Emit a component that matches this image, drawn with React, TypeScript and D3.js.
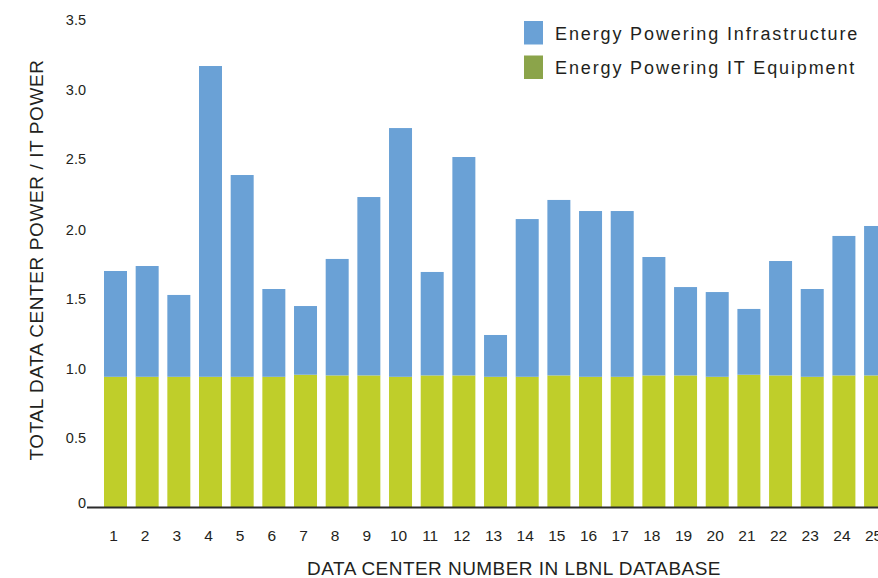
import React from "react";
import * as d3 from "d3";

const categories = Array.from({ length: 25 }, (_, i) => String(i + 1));
const itEquipment = [0.94, 0.94, 0.94, 0.94, 0.94, 0.94, 0.955, 0.95, 0.95, 0.94, 0.95, 0.95, 0.94, 0.94, 0.95, 0.94, 0.94, 0.95, 0.95, 0.94, 0.955, 0.95, 0.94, 0.95, 0.95];
const totalPower = [1.704, 1.74, 1.531, 3.184, 2.397, 1.574, 1.451, 1.791, 2.238, 2.736, 1.697, 2.527, 1.242, 2.079, 2.217, 2.137, 2.137, 1.805, 1.588, 1.552, 1.43, 1.776, 1.574, 1.957, 2.029];
const yTicks = [0, 0.5, 1.0, 1.5, 2.0, 2.5, 3.0, 3.5];
const yTickLabels = ["0", "0.5", "1.0", "1.5", "2.0", "2.5", "3.0", "3.5"];
const legendLabels = ["Energy Powering Infrastructure", "Energy Powering IT Equipment"];

const W = 878;
const H = 578;
const BLUE = "#6aa1d6";
const LIME = "#bfce2a";
const OLIVE = "#8ba44a";
const TEXT = "#231f20";
const FONT = "'Liberation Sans', Arial, Helvetica, sans-serif";

export default function App() {
  const step = 31.67;
  const pad = 0.274;
  const x0 = 99.66;
  const x = d3
    .scaleBand<string>()
    .domain(categories)
    .range([x0, x0 + step * categories.length])
    .paddingInner(pad)
    .paddingOuter(pad / 2);
  const y = d3.scaleLinear().domain([0, 3.5]).range([507, 22.25]);

  const rows = categories.map((c, i) => ({
    cat: c,
    it: itEquipment[i],
    infra: totalPower[i] - itEquipment[i],
  }));
  const stack = d3.stack<any>().keys(["it", "infra"])(rows);
  const colors: Record<string, string> = { it: LIME, infra: BLUE };

  return (
    <div style={{ position: "fixed", left: 0, top: 0, width: W, height: H, overflow: "hidden", background: "#fff" }}>
      <svg width={W} height={H} style={{ display: "block", fontFamily: FONT }}>
        {stack.map((layer) => (
          <g key={layer.key} fill={colors[layer.key]}>
            {layer.map((d, i) => (
              <rect
                key={i}
                x={x(categories[i])}
                y={y(d[1])}
                width={x.bandwidth()}
                height={y(d[0]) - y(d[1])}
              />
            ))}
          </g>
        ))}
        <line x1={87} x2={W} y1={y(0) + 0.5} y2={y(0) + 0.5} stroke="#2b2b2b" strokeWidth={2} />
        {yTicks.map((t, i) => (
          <text
            key={t}
            x={86}
            y={y(t) - (t === 0 ? 4 : 0) - (t >= 2.5 ? 2 : 0)}
            textAnchor="end"
            dominantBaseline="central"
            fontSize={14.5}
            fill={TEXT}
          >
            {yTickLabels[i]}
          </text>
        ))}
        {categories.map((c) => (
          <text
            key={c}
            x={(x(c) as number) + x.bandwidth() / 2 - 2}
            y={535}
            textAnchor="middle"
            dominantBaseline="central"
            fontSize={15.5}
            fill={TEXT}
          >
            {c}
          </text>
        ))}
        <text
          x={514}
          y={568}
          textAnchor="middle"
          dominantBaseline="central"
          fontSize={19}
          letterSpacing={0.45}
          fill={TEXT}
        >
          DATA CENTER NUMBER IN LBNL DATABASE
        </text>
        <text
          transform="translate(36,260) rotate(-90)"
          textAnchor="middle"
          dominantBaseline="central"
          fontSize={19}
          letterSpacing={0.6}
          fill={TEXT}
        >
          TOTAL DATA CENTER POWER / IT POWER
        </text>
        {legendLabels.map((l, i) => (
          <g key={l} transform={`translate(524,${21 + i * 34.5})`}>
            <rect width={19} height={23.5} fill={i === 0 ? BLUE : OLIVE} />
            <text x={31} y={12.5} dominantBaseline="central" fontSize={18} letterSpacing={1.87} fill={TEXT}>
              {l}
            </text>
          </g>
        ))}
      </svg>
    </div>
  );
}
